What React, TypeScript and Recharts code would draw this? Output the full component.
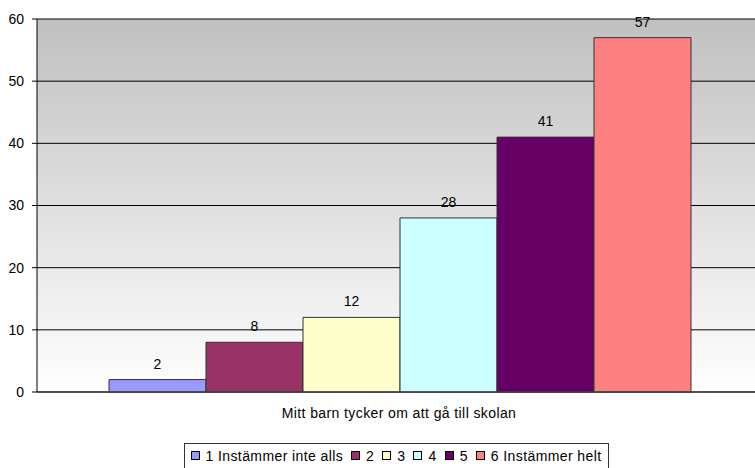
import React from "react";
import { BarChart, Bar, XAxis, YAxis, CartesianGrid, Legend, LabelList } from "recharts";

const categories = ["Mitt barn tycker om att gå till skolan"];
const seriesNames = ["1 Instämmer inte alls", "2", "3", "4", "5", "6 Instämmer helt"];
const seriesValues = [2, 8, 12, 28, 41, 57];
const seriesColors = ["#9999FF", "#993366", "#FFFFCC", "#CCFFFF", "#660066", "#FF8080"];
const yTicks = [0, 10, 20, 30, 40, 50, 60];

const data = categories.map((name) => {
  const row: any = { name };
  seriesNames.forEach((s, i) => {
    row[`s${i}`] = seriesValues[i];
  });
  return row;
});

const font = "'Liberation Sans', Arial, sans-serif";
const textStyle = { fill: "#000", fontSize: 14, fontFamily: font, letterSpacing: 0.4 };

function LegendBox() {
  return (
    <div style={{ display: "flex", justifyContent: "center", paddingLeft: 38 }}>
      <div
        style={{
          display: "flex",
          alignItems: "center",
          border: "1px solid #333",
          borderBottom: "none",
          height: 28,
          padding: "0 7px 4px 6px",
          boxSizing: "border-box",
          fontFamily: font,
          fontSize: 14,
          letterSpacing: 0.4,
          color: "#000",
          gap: 8,
        }}
      >
        {seriesNames.map((s, i) => (
          <div key={s} style={{ display: "flex", alignItems: "center", gap: 6 }}>
            <span
              style={{
                width: 7,
                height: 7,
                background: seriesColors[i],
                border: "1px solid #000",
                display: "inline-block",
              }}
            />
            <span>{s}</span>
          </div>
        ))}
      </div>
    </div>
  );
}

export default function App() {
  return (
    <div style={{ position: "absolute", left: 0, top: 0, width: 755, height: 468, overflow: "hidden", background: "#fff" }}>
      <BarChart
        width={755}
        height={471}
        data={data}
        margin={{ top: 19, right: 0, left: 0, bottom: 0 }}
        barCategoryGap={66}
        barGap={0}
      >
        <defs>
          <linearGradient id="bgGrad" x1="0" y1="0" x2="0" y2="1">
            <stop offset="0%" stopColor="#C0C0C0" />
            <stop offset="100%" stopColor="#FFFFFF" />
          </linearGradient>
        </defs>
        <CartesianGrid vertical={false} stroke="#000" fill="url(#bgGrad)" fillOpacity={1} />
        <XAxis
          dataKey="name"
          height={51}
          padding={{ left: 6, right: 0 }}
          tickLine={false}
          axisLine={{ stroke: "#404040", strokeWidth: 1.5 }}
          tick={textStyle}
          tickMargin={10}
        />
        <YAxis
          width={37}
          domain={[0, 60]}
          ticks={yTicks}
          interval={0}
          tickSize={5}
          tickMargin={8}
          axisLine={{ stroke: "#000" }}
          tickLine={{ stroke: "#000" }}
          tick={{ ...textStyle, letterSpacing: 0 }}
        />
        <Legend verticalAlign="bottom" height={28} content={() => <LegendBox />} />
        {seriesNames.map((s, i) => (
          <Bar
            key={s}
            dataKey={`s${i}`}
            name={s}
            fill={seriesColors[i]}
            stroke="#333"
            strokeWidth={1}
            isAnimationActive={false}
          >
            <LabelList dataKey={`s${i}`} position="top" offset={11} {...textStyle} letterSpacing={0} />
          </Bar>
        ))}
      </BarChart>
    </div>
  );
}
